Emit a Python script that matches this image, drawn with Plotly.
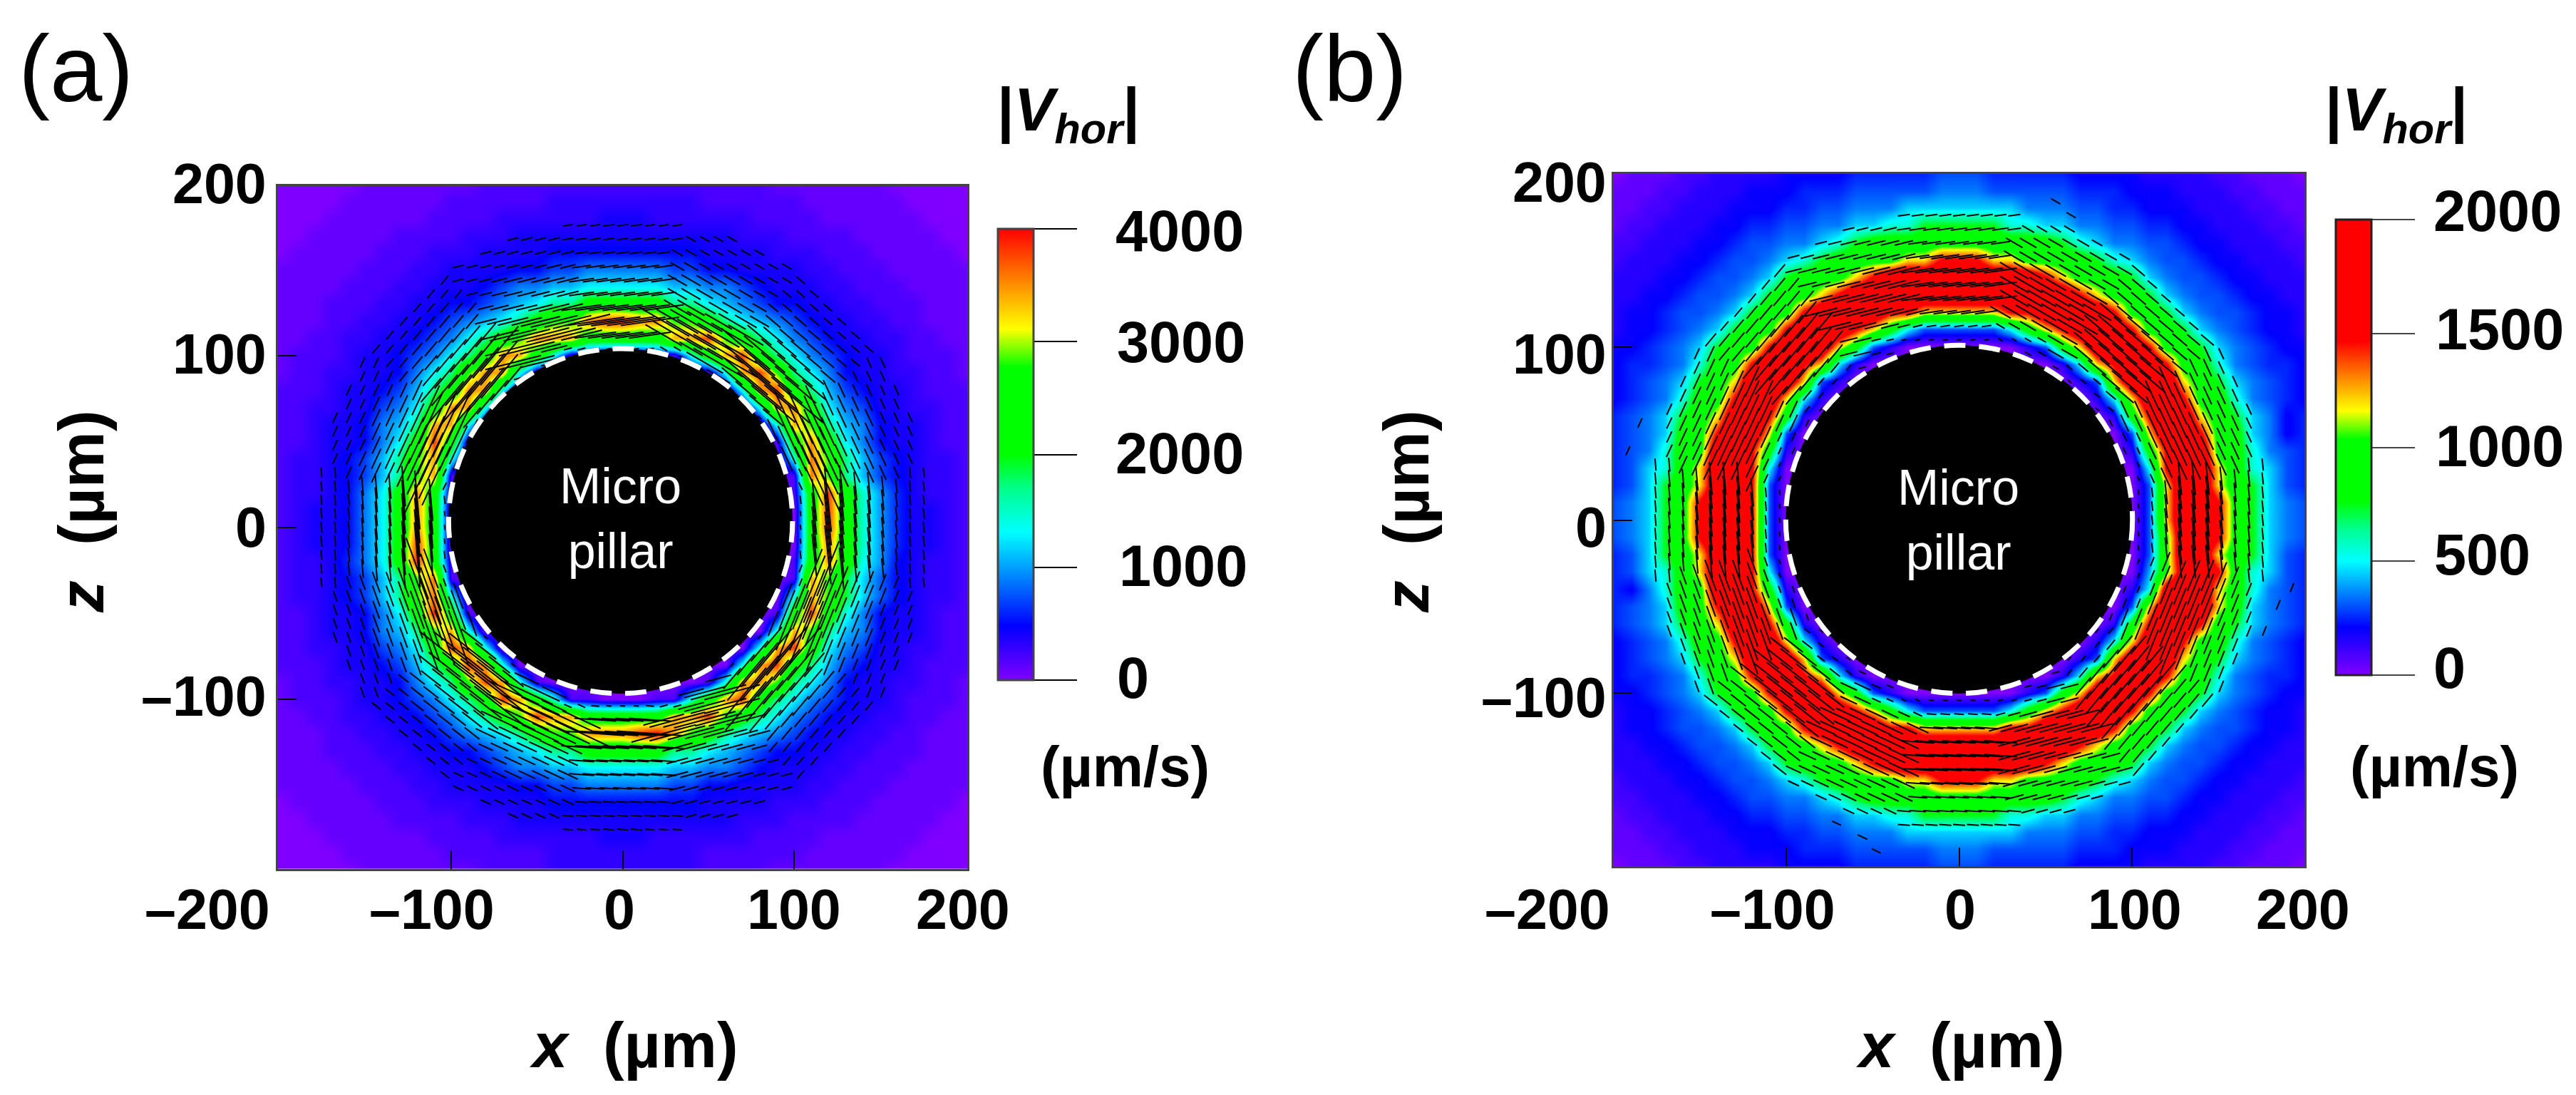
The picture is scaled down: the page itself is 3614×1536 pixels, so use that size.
import math

import numpy as np
import plotly.graph_objects as go

FIG_W = 3614
FIG_H = 1536

# grid of the speed maps, um
GRID_X = [-200 + 10 * i for i in range(41)]
GRID_Z = [200 - 10 * i for i in range(41)]

# |Vhor|, in units of 100 um/s, rows from z=+200 down to z=-200
VHOR_A = [
    [0,0,0,0,0,1,1,1,1,1,1,1,2,2,2,2,2,2,2,2,2,2,2,2,2,2,2,2,2,1,1,1,1,1,1,1,0,0,0,0,0],
    [0,0,0,0,1,1,1,1,1,1,2,2,2,2,2,2,3,3,3,3,3,3,3,3,3,2,2,2,2,2,2,1,1,1,1,1,1,0,0,0,0],
    [0,0,0,1,1,1,1,1,1,2,2,2,2,3,3,3,3,3,3,4,4,4,3,3,3,3,3,3,2,2,2,2,1,1,1,1,1,1,0,0,0],
    [0,0,1,1,1,1,1,2,2,2,2,3,3,3,4,4,4,4,4,4,4,4,4,4,4,4,4,3,3,3,2,2,2,2,1,1,1,1,1,0,0],
    [0,1,1,1,1,1,2,2,2,3,3,3,4,4,4,4,5,5,5,5,5,5,5,5,5,4,4,4,4,3,3,3,2,2,2,1,1,1,1,1,0],
    [1,1,1,1,1,2,2,2,3,3,4,4,4,4,5,5,7,7,9,9,9,9,9,7,7,5,5,4,4,4,4,3,3,2,2,2,1,1,1,1,1],
    [1,1,1,1,2,2,2,3,3,4,4,4,5,7,9,9,11,11,13,13,13,13,13,11,11,9,9,7,5,4,4,4,3,3,2,2,2,1,1,1,1],
    [1,1,1,2,2,2,3,3,4,4,5,5,7,9,11,13,17,17,23,23,23,23,23,17,17,13,11,9,7,5,5,4,4,3,3,2,2,2,1,1,1],
    [1,1,1,2,2,3,3,4,4,5,7,9,11,13,17,23,28,28,35,38,38,35,35,28,28,23,17,13,11,9,7,5,4,4,3,3,2,2,1,1,1],
    [1,1,2,2,3,3,4,4,5,7,9,13,17,23,28,35,34,34,24,24,24,24,24,34,34,38,28,23,17,13,9,7,5,4,4,3,3,2,2,1,1],
    [1,2,2,2,3,4,4,5,7,9,13,17,23,35,34,24,14,2,2,0,0,0,2,2,14,24,34,38,23,17,13,9,7,5,4,4,3,2,2,2,1],
    [1,2,2,3,3,4,4,5,9,13,17,28,35,34,14,2] + [0]*9 + [2,14,34,38,28,17,13,9,5,4,4,3,3,2,2,1],
    [2,2,2,3,4,4,5,7,11,17,23,35,34,14] + [0]*13 + [14,34,38,23,17,11,7,5,4,4,3,2,2,2],
    [2,2,3,3,4,4,7,9,13,23,35,34,14] + [0]*15 + [14,34,35,23,13,9,7,4,4,3,3,2,2],
    [2,2,3,4,4,5,9,11,17,34,34,14] + [0]*17 + [14,34,28,17,11,9,5,4,4,3,2,2],
    [2,2,3,4,4,5,9,13,23,38,24,2] + [0]*17 + [2,24,35,23,13,9,5,4,4,3,2,2],
    [2,3,3,4,5,7,11,17,28,34,14] + [0]*19 + [14,36,28,17,11,7,5,4,3,3,2],
    [2,3,3,4,5,7,11,17,28,34,2] + [0]*19 + [2,36,28,17,11,7,5,4,3,3,2],
    [2,3,3,4,5,9,13,23,35,24,2] + [0]*19 + [2,24,38,24,15,10,6,4,3,3,2],
    [2,3,4,4,5,9,13,23,35,24] + [0]*21 + [24,38,24,15,10,6,4,4,3,2],
    [2,3,4,4,5,9,13,23,35,24] + [0]*21 + [24,38,24,15,10,6,4,4,3,2],
    [2,3,4,4,5,9,13,23,38,24] + [0]*21 + [24,35,24,15,10,6,4,4,3,2],
    [2,3,3,4,6,9,13,23,39,24,2] + [0]*19 + [2,24,35,24,14,10,5,4,3,3,2],
    [2,3,3,4,5,7,11,17,28,36,2] + [0]*19 + [2,34,28,19,12,8,5,4,3,3,2],
    [2,3,3,4,5,7,11,17,28,36,14] + [0]*19 + [14,34,28,19,12,8,5,4,3,3,2],
    [2,2,3,4,4,5,9,13,23,39,24,2] + [0]*17 + [2,24,38,24,14,9,5,4,4,3,2,2],
    [2,2,3,4,4,5,9,11,17,28,34,14] + [0]*17 + [14,34,28,17,11,9,5,4,4,3,2,2],
    [2,2,3,3,4,4,7,9,13,23,38,34,14] + [0]*15 + [14,34,38,24,13,9,7,4,4,3,3,2,2],
    [2,2,2,3,4,4,5,7,11,17,23,38,34,14] + [0]*13 + [14,34,38,23,17,11,7,5,4,4,3,2,2,2],
    [1,2,2,3,3,4,4,5,9,13,17,28,38,34,14,2] + [0]*9 + [2,14,34,35,28,17,13,9,5,4,4,3,3,2,2,1],
    [1,2,2,2,3,4,4,5,7,9,13,17,23,38,34,24,14,2,2,0,0,0,2,2,14,24,34,38,23,17,13,9,7,5,4,4,3,2,2,2,1],
    [1,1,2,2,3,3,4,4,5,7,9,13,17,23,28,38,34,34,24,24,24,24,24,34,34,38,28,23,17,13,9,7,5,4,4,3,3,2,2,1,1],
    [1,1,1,2,2,3,3,4,4,5,7,9,11,13,17,23,28,28,35,35,35,38,40,34,28,23,17,13,11,9,7,5,4,4,3,3,2,2,1,1,1],
    [1,1,1,2,2,2,3,3,4,4,5,5,7,9,11,13,17,17,23,23,23,23,23,17,17,13,11,9,7,5,5,4,4,3,3,2,2,2,1,1,1],
    [1,1,1,1,2,2,2,3,3,4,4,4,5,7,9,9,11,11,13,13,13,13,13,11,11,9,9,7,5,4,4,4,3,3,2,2,2,1,1,1,1],
    [1,1,1,1,1,2,2,2,3,3,4,4,4,4,5,5,7,7,9,9,9,9,9,7,7,5,5,4,4,4,4,3,3,2,2,2,1,1,1,1,1],
    [0,1,1,1,1,1,2,2,2,3,3,3,4,4,4,4,5,5,5,5,5,5,5,5,5,4,4,4,4,3,3,3,2,2,2,1,1,1,1,1,0],
    [0,0,1,1,1,1,1,2,2,2,2,3,3,3,4,4,4,4,4,4,4,4,4,4,4,4,4,3,3,3,2,2,2,2,1,1,1,1,1,0,0],
    [0,0,0,1,1,1,1,1,1,2,2,2,2,3,3,3,3,3,3,4,4,4,3,3,3,3,3,3,2,2,2,2,1,1,1,1,1,1,0,0,0],
    [0,0,0,0,1,1,1,1,1,1,2,2,2,2,2,2,3,3,3,3,3,3,3,3,3,2,2,2,2,2,2,1,1,1,1,1,1,0,0,0,0],
    [0,0,0,0,0,1,1,1,1,1,1,1,2,2,2,2,3,3,3,3,3,3,3,3,3,2,2,2,2,1,1,1,1,1,1,1,0,0,0,0,0],
]

# |Vhor|, in units of 50 um/s, rows from z=+200 down to z=-200
VHOR_B = [
    [0,1,1,1,2,2,3,3,3,3,4,4,4,4,5,5,5,5,5,6,6,6,5,5,5,5,5,4,4,4,4,3,3,3,3,2,2,1,1,1,0],
    [1,1,1,2,2,3,3,3,4,4,4,5,5,5,6,6,6,6,6,7,7,7,6,6,6,6,6,5,5,5,4,4,4,3,3,3,2,2,1,1,1],
    [1,1,2,2,3,3,3,4,4,4,5,5,6,6,7,7,7,9,9,9,9,9,9,9,7,7,7,6,6,5,5,4,4,4,3,3,3,2,2,1,1],
    [1,2,2,3,3,3,4,4,5,5,6,6,7,7,9,9,11,11,15,15,15,15,15,11,11,9,9,7,7,6,6,5,5,4,4,3,3,3,2,2,1],
    [2,2,3,3,3,4,4,5,6,6,7,7,9,11,15,18,18,18,18,19,19,19,18,18,18,18,15,11,9,7,7,6,6,5,4,4,3,3,3,2,2],
    [2,3,3,3,4,4,5,6,6,7,9,11,15,18,18,19,19,24,24,30,30,30,24,24,19,19,18,18,15,11,9,7,6,6,5,4,4,3,3,3,2],
    [3,3,3,4,4,5,6,6,7,9,15,18,18,19,24,30,36,36,36,36,36,36,36,36,36,30,24,19,18,18,15,9,7,6,6,5,4,4,3,3,3],
    [3,3,4,4,5,6,6,7,9,15,18,19,24,30,36,36,36,36,36,36,36,36,36,36,36,36,36,30,24,19,18,15,9,7,6,6,5,4,4,3,3],
    [3,4,4,5,6,6,7,9,15,18,19,30,36,36,36,36,30,30,24,24,24,24,24,30,30,36,36,36,36,30,19,18,15,9,7,6,6,5,4,4,3],
    [3,4,4,5,6,7,9,15,18,19,30,36,36,36,30,24,17,10,6,6,6,6,6,10,17,24,30,36,36,36,30,19,18,15,9,7,6,5,4,4,3],
    [4,4,5,6,7,9,15,18,19,30,36,36,36,24,17,6,3] + [0]*7 + [3,6,17,24,36,36,36,30,19,18,15,9,7,6,5,4,4],
    [4,5,5,6,7,11,18,19,30,36,36,30,24,10,3] + [0]*11 + [3,10,24,30,36,36,30,19,18,11,7,6,5,5,4],
    [4,5,6,7,9,15,18,24,36,36,36,24,6,3] + [0]*13 + [3,6,24,36,36,36,24,18,15,9,7,6,5,4],
    [4,5,6,7,11,18,19,30,36,36,24,10,3] + [0]*15 + [3,10,24,36,36,30,19,18,11,7,6,5,4],
    [5,6,7,9,15,18,24,36,36,30,17,3] + [0]*17 + [3,17,30,36,36,24,18,15,9,7,4,5],
    [5,6,7,9,18,19,30,36,36,24,6] + [0]*19 + [6,24,36,36,30,19,18,9,7,4,5],
    [5,6,7,11,18,19,36,36,30,17,3] + [0]*19 + [3,17,30,36,36,19,18,11,7,6,5],
    [5,6,9,11,18,24,36,36,30,10] + [0]*21 + [10,30,36,36,24,18,11,9,6,5],
    [5,6,9,15,18,24,36,36,30,6] + [0]*21 + [6,24,36,36,24,18,15,9,6,5],
    [6,7,9,15,19,30,36,36,30,6] + [0]*21 + [6,24,36,36,30,19,15,9,7,6],
    [6,7,9,15,19,30,36,36,30,6] + [0]*21 + [6,24,36,36,30,19,15,9,7,6],
    [6,7,9,15,19,30,36,36,30,6] + [0]*21 + [6,20,36,36,30,19,15,9,7,6],
    [5,6,9,15,18,24,36,36,30,6] + [0]*21 + [6,20,36,36,24,18,15,9,6,5],
    [5,6,9,11,18,24,36,36,30,10] + [0]*21 + [8,20,34,36,30,18,11,9,6,5],
    [5,4,7,11,18,19,36,36,30,17,3] + [0]*19 + [3,10,34,36,36,24,18,11,7,6,5],
    [5,6,7,9,18,19,30,36,36,24,6] + [0]*19 + [6,24,36,36,36,24,18,9,7,6,5],
    [5,6,7,9,15,18,24,36,36,30,17,3] + [0]*17 + [3,17,30,36,36,30,18,15,9,7,6,5],
    [4,5,6,7,11,18,19,30,36,36,24,10,3] + [0]*15 + [3,10,24,36,36,30,19,18,11,7,6,5,4],
    [4,5,6,7,9,15,18,24,36,36,36,24,6,3] + [0]*13 + [3,6,24,36,36,36,24,18,15,9,7,6,5,4],
    [4,5,5,6,7,11,18,19,30,36,36,30,24,10,3] + [0]*11 + [3,10,24,30,36,36,30,19,18,11,7,6,5,5,4],
    [4,4,5,6,7,9,15,18,19,30,36,36,36,24,17,6,3] + [0]*7 + [3,6,17,24,36,36,36,30,19,18,15,9,7,6,5,4,4],
    [3,4,4,5,6,7,9,15,18,19,30,36,36,36,30,24,17,10,6,6,6,6,6,10,17,24,30,36,36,36,30,19,18,15,9,7,6,5,4,4,3],
    [3,4,4,5,6,6,7,9,15,18,19,30,36,36,36,36,30,30,24,24,24,24,24,30,30,36,36,36,36,30,19,18,15,9,7,6,6,5,4,4,3],
    [3,3,4,4,5,6,6,7,9,15,18,19,24,30,36,36,36,36,36,36,36,36,36,36,36,36,36,30,24,19,18,15,9,7,6,6,5,4,4,3,3],
    [3,3,3,4,4,5,6,6,7,9,15,18,18,19,24,30,36,36,36,36,36,36,36,36,36,30,24,19,18,18,15,9,7,6,6,5,4,4,3,3,3],
    [2,3,3,3,4,4,5,6,6,7,9,11,15,18,18,19,19,24,24,30,30,30,24,24,19,19,18,18,15,11,9,7,6,6,5,4,4,3,3,3,2],
    [2,2,3,3,3,4,4,5,6,6,7,7,9,11,15,18,18,18,18,19,19,19,18,18,18,18,15,11,9,7,7,6,6,5,4,4,3,3,3,2,2],
    [1,2,2,3,3,3,4,4,5,5,6,6,7,7,9,9,11,11,15,15,15,15,15,11,11,9,9,7,7,6,6,5,5,4,4,3,3,3,2,2,1],
    [1,1,2,2,3,3,3,4,4,4,5,5,6,6,7,7,7,9,9,9,9,9,9,9,7,7,7,6,6,5,5,4,4,4,3,3,3,2,2,1,1],
    [1,1,1,2,2,3,3,3,4,4,4,5,5,5,6,6,6,6,6,7,7,7,6,6,6,6,6,5,5,5,4,4,4,3,3,3,2,2,1,1,1],
    [0,1,1,1,2,2,3,3,3,3,4,4,4,4,5,5,5,5,5,6,6,6,5,5,5,5,5,4,4,4,4,3,3,3,3,2,2,1,1,1,0],
]

# direction of the velocity dashes (deg from +x) for 16 sectors round the pillar,
# it changes in facets rather than following the circle
DASH_ANGLE_BY_SECTOR = [96, 115, 140, 150, 8, 14, 50, 65, 95, 110, 142, 155, 176, 15, 50, 68]

# dashes lying outside the main ring in (b)
STRAY_X_B = [-185, -192, 193, 185, 177, 56, 65, -56, -48, -71]
STRAY_Z_B = [56, 40, -39, -49, -64, 184, 176, -183, -191, -175]

AXIS_TICKS = [-100, 0, 100]

X_LABELS = ["\u2013200", "\u2013100", "0", "100", "200"]
Y_LABELS = ["200", "100", "0", "\u2013100"]
CBAR_TICKS_A = [4000, 3000, 2000, 1000, 0]
CBAR_TICKS_B = [2000, 1500, 1000, 500, 0]

# the labels in the figure sit by hand, not exactly at their ticks (pixels)
X_LABEL_PX_A = [291, 606, 869, 1114, 1351]
X_LABEL_PX_B = [2171, 2487, 2750, 2995, 3231]
Y_LABEL_PY_A = [257, 496, 739, 976]
Y_LABEL_PY_B = [256, 497, 740, 978]
CBAR_LABEL_PX_A = [1565, 1567, 1565, 1570, 1567]
CBAR_LABEL_PY_A = [324, 480, 636, 794, 951]
CBAR_LABEL_PX_B = [3414, 3417, 3417, 3415, 3414]
CBAR_LABEL_PY_B = [296, 462, 626, 778, 937]

COLORS_A = [
    [0.0, "#8000ff"], [0.12, "#0000ff"], [0.328, "#00ffff"], [0.42, "#00ff90"],
    [0.5, "#00ff00"], [0.693, "#00ff00"], [0.778, "#ffff00"], [1.0, "#ff0000"],
]
COLORS_B = [
    [0.0, "#8000ff"], [0.105, "#0000ff"], [0.251, "#00ffff"], [0.32, "#00ff90"],
    [0.382, "#00ff00"], [0.518, "#00ff00"], [0.58, "#ffff00"], [0.733, "#ff0000"], [1.0, "#ff0000"],
]

FONT = "Liberation Sans"


def fx(px):
    return px / FIG_W


def fy(px):
    return 1 - px / FIG_H


# one line trace with a short segment per grid point of the ring
def dashes(z_rows, min_len, scale, stray_x=(), stray_z=()):
    xs, ys = [], []
    points = []
    for px in range(-176, 177, 8):
        for pz in range(-176, 177, 8):
            if 102 < math.hypot(px, pz) < 180:
                points.append((px, pz))
    points += list(zip(stray_x, stray_z))
    for px, pz in points:
        col = min(40, max(0, round((px + 200) / 10)))
        row = min(40, max(0, round((200 - pz) / 10)))
        theta = math.degrees(math.atan2(pz, px)) % 360
        angle = math.radians(DASH_ANGLE_BY_SECTOR[round(theta / 22.5) % 16])
        half = (min_len + scale * z_rows[row, col]) / 2
        xs += [px - half * math.cos(angle), px + half * math.cos(angle), None]
        ys += [pz - half * math.sin(angle), pz + half * math.sin(angle), None]
    return xs, ys


z_a = np.array(VHOR_A) * 100
z_b = np.array(VHOR_B) * 50

fig = go.Figure()

fig.add_trace(go.Heatmap(
    x=GRID_X, y=GRID_Z[::-1], z=z_a[::-1], zmin=0, zmax=4000, zsmooth="best",
    colorscale=COLORS_A, xaxis="x", yaxis="y", hoverinfo="skip",
    colorbar=dict(
        x=fx(1400), xanchor="left", xpad=0, ypad=0, y=fy(321), yanchor="top",
        lenmode="pixels", len=633, thicknessmode="pixels", thickness=50,
        outlinecolor="#444444", outlinewidth=3, ticks="outside", ticklen=60, tickwidth=2,
        tickcolor="black", tickvals=CBAR_TICKS_A, showticklabels=False,
    ),
))
fig.add_trace(go.Heatmap(
    x=GRID_X, y=GRID_Z[::-1], z=z_b[::-1], zmin=0, zmax=2000, zsmooth="best",
    colorscale=COLORS_B, xaxis="x2", yaxis="y2", hoverinfo="skip",
    colorbar=dict(
        x=fx(3277), xanchor="left", xpad=0, ypad=0, y=fy(308), yanchor="top",
        lenmode="pixels", len=639, thicknessmode="pixels", thickness=50,
        outlinecolor="#222222", outlinewidth=3, ticks="outside", ticklen=60, tickwidth=2,
        tickcolor="#444444", tickvals=CBAR_TICKS_B, showticklabels=False,
    ),
))

xs_a, ys_a = dashes(z_a, 3, 0.009)
fig.add_trace(go.Scatter(x=xs_a, y=ys_a, mode="lines", xaxis="x", yaxis="y",
                         line=dict(color="black", width=2), hoverinfo="skip", showlegend=False))
xs_b, ys_b = dashes(z_b, 3, 0.009, STRAY_X_B, STRAY_Z_B)
fig.add_trace(go.Scatter(x=xs_b, y=ys_b, mode="lines", xaxis="x2", yaxis="y2",
                         line=dict(color="black", width=2), hoverinfo="skip", showlegend=False))

axis_style = dict(
    showgrid=False, zeroline=False, showline=True, mirror=True, linecolor="#444444", linewidth=3,
    ticks="inside", ticklen=26, tickwidth=2, tickcolor="black",
    tickvals=AXIS_TICKS, showticklabels=False,
)

fig.update_layout(
    width=FIG_W, height=FIG_H, margin=dict(l=0, r=0, t=0, b=0, autoexpand=False),
    paper_bgcolor="white", plot_bgcolor="white", showlegend=False,
    font=dict(family=FONT, color="black"),
    xaxis=dict(domain=[fx(390), fx(1357)], range=[-201.4, 201.4], anchor="y", **axis_style),
    yaxis=dict(domain=[fy(1219), fy(260.6)], range=[-199, 199], anchor="x", **axis_style),
    xaxis2=dict(domain=[fx(2264), fx(3233)], range=[-200.2, 200.2], anchor="y2", **axis_style),
    yaxis2=dict(domain=[fy(1215), fy(244)], range=[-199.8, 199.8], anchor="x2", **axis_style),
)

# the pillar, black disc with a dashed white rim
for xref, yref, cx, cz, rad in [("x", "y", -1.2, 3.7, 100.5), ("x2", "y2", 0, 0.4, 100.5)]:
    fig.add_shape(type="circle", xref=xref, yref=yref, x0=cx - rad, x1=cx + rad, y0=cz - rad, y1=cz + rad,
                  fillcolor="black", line=dict(color="white", width=7, dash="30px,19px"), layer="above")


def label(text, px, py, size, bold=True, color="black", angle=0, anchor="center"):
    fig.add_annotation(
        text=text, x=fx(px), y=fy(py), xref="paper", yref="paper", showarrow=False,
        xanchor=anchor, yanchor="middle", textangle=angle, borderpad=0, borderwidth=0,
        font=dict(family=FONT, size=size, color=color, weight="bold" if bold else "normal"),
    )


VHOR_TITLE = "|<i>V<sub>hor</sub></i>|"
XTITLE = "<i>x</i>\u00a0\u00a0(\u00b5m)"
ZTITLE = "<i>z</i>\u00a0\u00a0(\u00b5m)"

label("(a)", 106, 96, 132, bold=False)
label("(b)", 1893, 96, 132, bold=False)
label(VHOR_TITLE, 1499, 160, 85)
label(VHOR_TITLE, 3362, 160, 85)
label("(\u00b5m/s)", 1578, 1075, 80)
label("(\u00b5m/s)", 3415, 1075, 80)
label(XTITLE, 889, 1466, 89)
label(XTITLE, 2750, 1466, 89)
label(ZTITLE, 114, 718, 89, angle=-90)
label(ZTITLE, 1973, 718, 89, angle=-90)
label("Micro<br>pillar", 870, 727, 70, bold=False, color="white")
label("Micro<br>pillar", 2747, 729, 70, bold=False, color="white")

for text, px in zip(X_LABELS, X_LABEL_PX_A):
    label(text, px, 1275, 79)
for text, px in zip(X_LABELS, X_LABEL_PX_B):
    label(text, px, 1275, 79)
for text, py in zip(Y_LABELS, Y_LABEL_PY_A):
    label(text, 374, py, 79, anchor="right")
for text, py in zip(Y_LABELS, Y_LABEL_PY_B):
    label(text, 2254, py, 79, anchor="right")
for val, px, py in zip(CBAR_TICKS_A, CBAR_LABEL_PX_A, CBAR_LABEL_PY_A):
    label(str(val), px, py, 81, anchor="left")
for val, px, py in zip(CBAR_TICKS_B, CBAR_LABEL_PX_B, CBAR_LABEL_PY_B):
    label(str(val), px, py, 81, anchor="left")

fig.write_html("out.html", post_script="document.body.style.margin='0';", config={"displayModeBar": False})
